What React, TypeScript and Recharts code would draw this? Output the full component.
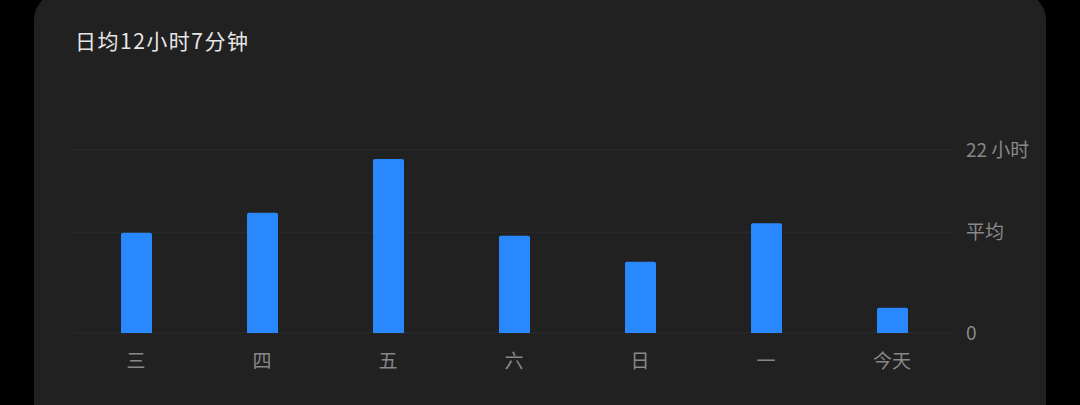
import { BarChart, Bar, XAxis, YAxis, CartesianGrid } from 'recharts';

// Screen time per day (hours)
const days = ['三', '四', '五', '六', '日', '一', '今天'];
const hours = [12.06, 14.46, 20.92, 11.7, 8.57, 13.19, 3.04];
const avgHours = 12 + 7 / 60; // 日均12小时7分钟
const yMax = 22;
const yTicks = [0, avgHours, yMax];
const yTickLabels = ['0', '平均', '22 小时'];

const data = days.map((day, i) => ({ day, hours: hours[i] }));

const FONT = '"Noto Sans CJK SC", "Noto Sans", sans-serif';

export default function App() {
  return (
    <div
      style={{
        position: 'absolute',
        left: 0,
        top: 0,
        width: 1080,
        height: 405,
        overflow: 'hidden',
        background: '#000',
        fontFamily: FONT,
      }}
    >
      <div
        style={{
          position: 'absolute',
          left: 34,
          top: -8,
          width: 1012,
          height: 460,
          borderRadius: 28,
          background: '#212121',
        }}
      />
      <div
        style={{
          position: 'absolute',
          left: 75,
          top: 26,
          fontSize: 21,
          lineHeight: '28px',
          color: '#e6e6e6',
          letterSpacing: 1.5,
        }}
      >
        日均12小时7分钟
      </div>
      <div style={{ position: 'absolute', left: 0, top: 0 }}>
        <BarChart
          width={1080}
          height={405}
          data={data}
          margin={{ top: 150, right: 0, left: 73, bottom: 0 }}
        >
          <CartesianGrid vertical={false} stroke="#2d2d2d" strokeWidth={1} />
          <XAxis
            dataKey="day"
            height={72}
            axisLine={false}
            tickLine={false}
            tickSize={0}
            tickMargin={22}
            tick={{ fill: '#888', fontSize: 19 }}
            interval={0}
          />
          <YAxis
            orientation="right"
            width={125}
            domain={[0, yMax]}
            ticks={yTicks}
            tickFormatter={(v: number) => yTickLabels[yTicks.indexOf(v)] ?? ''}
            axisLine={false}
            tickLine={false}
            tickSize={0}
            tickMargin={11}
            tick={{ fill: '#888', fontSize: 19, textAnchor: 'start' }}
          />
          <Bar dataKey="hours" fill="#2a88ff" barSize={31} radius={[2, 2, 0, 0]} isAnimationActive={false} />
        </BarChart>
      </div>
    </div>
  );
}
